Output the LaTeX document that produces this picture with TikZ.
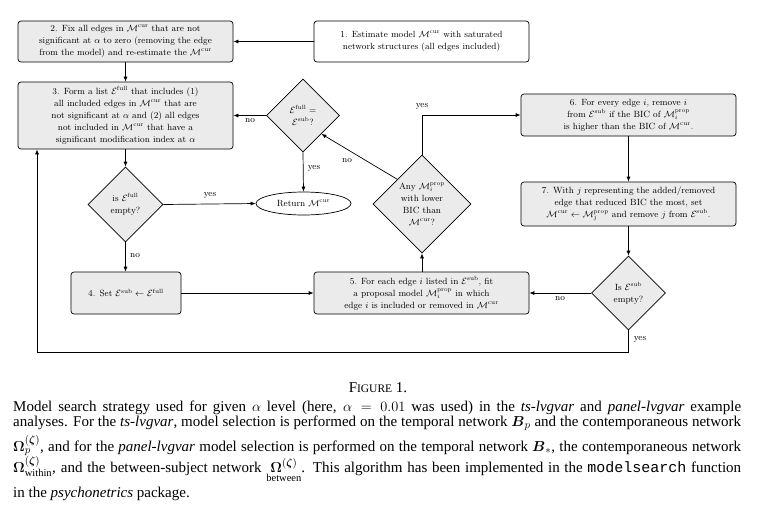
\documentclass[tikz,border=0pt]{standalone}
\usepackage{amsmath,amssymb}
\usepackage{fontspec}
\newfontfamily\capfont{Liberation Serif}
\newfontfamily\capmono{Liberation Mono}
\usetikzlibrary{shapes.geometric,arrows.meta}
\definecolor{boxgray}{HTML}{EBEBEB}
\newcommand{\Mc}[1][]{\mathcal{M}^{\mathrm{cur}}}
\newcommand{\Ef}{\mathcal{E}^{\mathrm{full}}}
\newcommand{\Es}{\mathcal{E}^{\mathrm{sub}}}
\begin{document}
\begin{tikzpicture}[x=1pt,y=-1pt,
  font=\fontsize{9}{12}\selectfont,
  box/.style={draw, rounded corners=3pt, fill=boxgray, align=center, inner sep=1pt, line width=0.7pt, minimum width=215pt},
  wbox/.style={box, fill=white},
  dia/.style={draw, diamond, fill=boxgray, inner sep=0pt, line width=0.7pt},
  dtext/.style={align=center, inner sep=0pt},
  lab/.style={inner sep=0pt},
  arr/.style={line width=0.7pt, -{Latex[length=5pt,width=4pt]}},
  capline/.style={anchor=base west, inner sep=0pt, font=\capfont\fontsize{15}{17}\selectfont}
]
\useasboundingbox (0,0) rectangle (757,507);
% boxes
\node[wbox, minimum height=41pt] (b1) at (421.5,41.5) {1. Estimate model $\Mc$ with saturated\\network structures (all edges included)};
\node[box, minimum height=41pt] (b2) at (125.5,41.5) {2. Fix all edges in $\Mc$ that are not\\significant at $\alpha$ to zero (removing the edge\\from the model) and re-estimate the $\Mc$};
\node[box, minimum height=67pt] (b3) at (125.5,115.5) {3. Form a list $\Ef$ that includes (1)\\all included edges in $\Mc$ that are\\not significant at $\alpha$ and (2) all edges\\not included in $\Mc$ that have a\\significant modification index at $\alpha$};
\node[box, minimum width=110pt, minimum height=42pt] (b4) at (126,293) {4. Set $\Es \leftarrow \Ef$};
\node[box, minimum height=42pt] (b5) at (421.5,293) {5. For each edge $i$ listed in $\Es$, fit\\a proposal model $\mathcal{M}_i^{\mathrm{prop}}$ in which\\edge $i$ is included or removed in $\Mc$};
\node[box, minimum height=42pt] (b6) at (628.5,115) {6. For every edge $i$, remove $i$\\from $\Es$ if the BIC of $\mathcal{M}_i^{\mathrm{prop}}$\\is higher than the BIC of $\Mc$.};
\node[box, minimum height=44pt] (b7) at (628.5,204) {7. With $j$ representing the added/removed\\edge that reduced BIC the most, set\\$\Mc \leftarrow \mathcal{M}_j^{\mathrm{prop}}$ and remove $j$ from $\Es$.};
% diamonds
\node[dia, minimum width=73pt, minimum height=73pt] (eq) at (303,115.5) {};
\node[dtext] (eqt) at (eq) {$\Ef =$\\$\Es$?};
\node[dia, minimum width=75pt, minimum height=75pt] (ise) at (125.5,204.5) {};
\node[dtext] (iset) at (ise) {is $\Ef$\\empty?};
\node[dia, minimum width=74pt, minimum height=74pt] (ise2) at (628.5,293) {};
\node[dtext] (ise2t) at (ise2) {Is $\Es$\\empty?};
\node[dia, minimum width=98pt, minimum height=98pt] (any) at (422,204) {};
\node[dtext] (anyt) at (any) {Any $\mathcal{M}_i^{\mathrm{prop}}$\\with lower\\BIC than\\$\Mc$?};
% ellipse
\node[draw, ellipse, fill=white, line width=0.7pt, minimum width=95pt, minimum height=23pt, inner sep=0pt] (ret) at (303.5,203.5) {Return $\Mc$};
% connectors
\draw[arr] (b1) -- (b2);
\draw[arr] (b2) -- (b3);
\draw[arr] (eq.west) -- (eq.west -| b3.east);
\draw[arr] (b3.south -| ise.north) -- (ise.north);
\draw[arr] (ise.east) -- (ret.west);
\draw[arr] (eq.south) -- (ret.north);
\draw[arr] (ise.south) -- (ise.south |- b4.north);
\draw[arr] (b4.east) -- (b4.east -| b5.west);
\draw[arr] (b5.north -| any.south) -- (any.south);
\draw[arr] (any.north) |- (b6.west);
\draw[arr] (any.north west) -- (eq.south east);
\draw[arr] (b6.south) -- (b7.north);
\draw[arr] (b7.south) -- (ise2.north);
\draw[arr] (ise2.west) -- (ise2.west -| b5.east);
\coordinate (c1) at (628.5,352);
\coordinate (c2) at (37,352);
\draw[arr] (ise2.south) -- (c1) -- (c2) -- (c2 |- b3.south);
% labels
\node[lab] (l1) at (250,121) {no};
\node[lab] (l2) at (210,195) {yes};
\node[lab] (l3) at (314,168) {yes};
\node[lab] (l4) at (135,256) {no};
\node[lab] (l5) at (422,106) {yes};
\node[lab] (l6) at (347,161) {no};
\node[lab] (l7) at (560,299) {no};
\node[lab] (l8) at (640,339) {yes};
% caption
\node[inner sep=0pt, anchor=base, font=\capfont\fontsize{15}{17}\selectfont] (fig) at (378,392) {F{\fontsize{11.5}{13}\selectfont IGURE} 1.};
\node[capline] (cl1) at (13,411) {\makebox[728pt][s]{Model search strategy used for given $\alpha$ level (here, $\alpha = 0.01$ was used) in the \textit{ts-lvgvar} and \textit{panel-lvgvar} example}};
\node[capline] (cl2) at (13,426) {\makebox[728pt][s]{analyses. For the \textit{ts-lvgvar}, model selection is performed on the temporal network $\boldsymbol{B}_p$ and the contemporaneous network}};
\node[capline] (cl3) at (13,451) {\makebox[728pt][s]{$\boldsymbol{\Omega}_p^{(\boldsymbol{\zeta})}$, and for the \textit{panel-lvgvar} model selection is performed on the temporal network $\boldsymbol{B}_*$, the contemporaneous network}};
\node[capline] (cl4) at (13,472) {\makebox[728pt][s]{$\boldsymbol{\Omega}^{(\boldsymbol{\zeta})}_{\text{within}}$, and the between-subject network $\underset{\text{between}}{\boldsymbol{\Omega}^{(\boldsymbol{\zeta})}}$. This algorithm has been implemented in the {\capmono modelsearch} function}};
\node[capline] (cl5) at (13,497) {in the \textit{psychonetrics} package.};
\end{tikzpicture}
\end{document}
